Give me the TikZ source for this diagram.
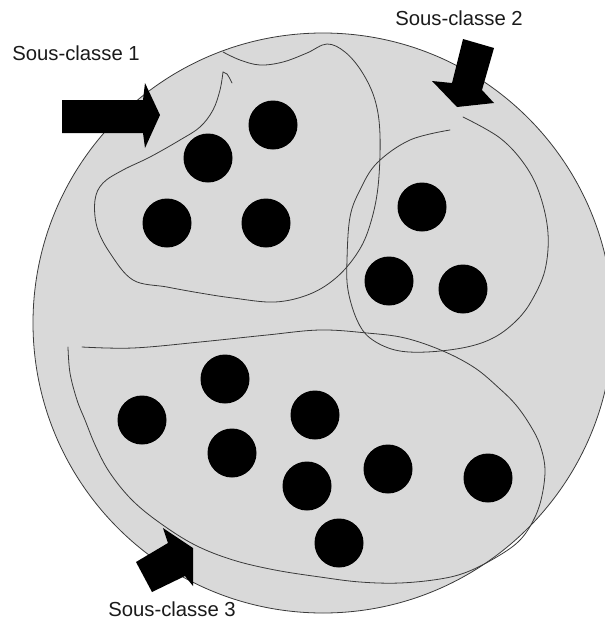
\documentclass[tikz,border=0pt]{standalone}
\usepackage{fontspec}
\setmainfont{Liberation Sans}
\definecolor{disc}{HTML}{D9D9D9}
\definecolor{ink}{HTML}{3A3A3A}
\definecolor{txt}{HTML}{1A1A1A}
\begin{document}
\begin{tikzpicture}[x=1pt,y=-1pt,
  outline/.style={draw=ink,line width=0.8pt,line join=round,line cap=round},
  dot/.style={fill=black},
  bigarrow/.style={fill=black},
  lbl/.style={anchor=base,inner sep=0pt,text=txt,font=\fontsize{20.3}{24}\selectfont}]
\useasboundingbox (0,0) rectangle (605,619);
\clip (0,0) rectangle (605,619);
% main disc
\filldraw[fill=disc,draw=ink,line width=0.8pt] (323,323) circle (290);
% sub-class 1 outline
\draw[outline] plot[smooth,tension=0.6] coordinates {(223,52) (240,60) (260,65) (283,62) (307,53) (327,44) (345,52) (362,72) (375,100) (380,135) (378,187) (370,225) (358,252) (337,277) (310,294) (275,302) (233,298) (200,293) (167,287) (133,280) (110,253) (97,227) (95,200) (103,183) (123,170) (150,157) (180,140) (200,127) (213,110) (220,90) (223,72)};
\draw[outline] (223,72) .. controls (227,73) .. (232,83);
% sub-class 2 outline
\draw[outline] plot[smooth,tension=0.6] coordinates {(463,117) (500,138) (525,165) (540,195) (548,233) (545,270) (532,300) (517,320) (495,337) (467,347) (427,352) (395,350) (370,338) (357,320) (348,290) (347,260) (350,217) (360,190) (377,163) (410,140) (450,130)};
% sub-class 3 outline
\draw[outline] plot[smooth,tension=0.6] coordinates {(68,347) (70,373) (77,400) (85,420) (96,447) (110,473) (132,500) (160,523) (195,545) (233,560) (275,570) (320,577) (360,582) (400,583) (440,579) (467,572) (495,558) (518,542) (532,523) (541,500) (545,470) (540,445) (530,425) (516,405) (500,389) (475,368) (443,351) (405,338) (367,333) (320,330) (267,335) (200,342) (133,348) (82,347)};
% dots
\foreach \n/\x/\y in {a/273/125, b/208/158, c/167/223, d/266/223,
  e/422/207, f/389/281, g/463/289,
  h/225/379, i/142/420, j/315/415, k/232/453, l/307/486, m/388/469, n/488/478, o/339/543}
  \fill[dot] (\x,\y) circle (24.5);
% arrows
\fill[bigarrow] (62,100) -- (143,100) -- (145,83) -- (160,115) -- (145,148) -- (143,133) -- (62,133) -- cycle;
\fill[bigarrow] (463,39) -- (494,48) -- (482,90) -- (494,103) -- (457,107) -- (432,81) -- (452,83) -- cycle;
\fill[bigarrow] (136,562) -- (168,543) -- (163,528) -- (193,548) -- (193,586) -- (185,576) -- (152,592) -- cycle;
% labels
\node[lbl] (l1) at (76,60) {Sous-classe 1};
\node[lbl] (l2) at (459,25) {Sous-classe 2};
\node[lbl] (l3) at (172,616) {Sous-classe 3};
\end{tikzpicture}
\end{document}
